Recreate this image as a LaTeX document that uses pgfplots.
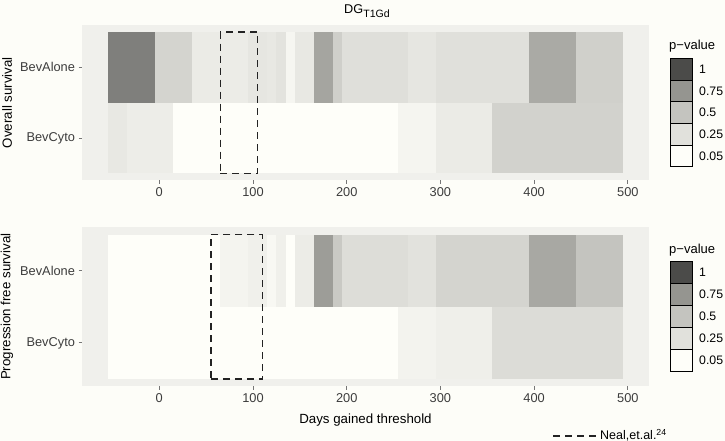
\documentclass[border=0pt]{standalone}
\usepackage{pgfplots}
\pgfplotsset{compat=1.18}
\usepackage{fontspec}
\setmainfont{Liberation Sans}
\definecolor{bgc}{RGB}{253,253,248}
\definecolor{panelc}{RGB}{240,240,236}
\definecolor{tickc}{RGB}{60,60,60}
\definecolor{dashc}{RGB}{35,35,35}
\newcommand{\tA}[4]{\addplot[draw=none,fill={rgb,255:red,#3;green,#3;blue,#4}] coordinates {(#1,1.5) (#2,1.5) (#2,2.5) (#1,2.5)} -- cycle;}
\newcommand{\tC}[4]{\addplot[draw=none,fill={rgb,255:red,#3;green,#3;blue,#4}] coordinates {(#1,0.5) (#2,0.5) (#2,1.5) (#1,1.5)} -- cycle;}
\pgfplotsset{
  myaxis/.style={
    scale only axis, width=566.9pt,
    xmin=-82.5, xmax=522.5, ymin=0.4, ymax=2.6,
    axis line style={draw=none},
    axis background/.style={fill=panelc},
    xtick={0,100,200,300,400,500},
    xticklabels={0,100,200,300,400,500},
    ytick={1,2}, yticklabels={BevCyto,BevAlone},
    tick align=outside, major tick length=3.5pt,
    tick style={draw=tickc!70, line width=0.8pt},
    xtick pos=bottom, ytick pos=left,
    ticklabel style={font=\fontsize{12.8}{14}\selectfont, text=tickc},
  }
}
\begin{document}
\begin{tikzpicture}[x=1pt,y=1pt]
\fill[bgc] (0,0) rectangle (725,-441);
\path[use as bounding box] (0,0) rectangle (725,-441);
% ---------- Overall survival ----------
\begin{axis}[myaxis, height=155.5pt, at={(82pt,-180.4pt)}, anchor=south west]
\tA{-55}{-5}{127}{124}
\tA{-5}{35}{212}{207}
\tA{35}{65}{235}{230}
\tA{65}{95}{236}{231}
\tA{95}{115}{230}{225}
\tA{115}{125}{232}{227}
\tA{125}{135}{227}{222}
\tA{135}{145}{246}{241}
\tA{145}{165}{232}{227}
\tA{165}{185}{165}{160}
\tA{185}{195}{207}{202}
\tA{195}{265}{223}{218}
\tA{265}{295}{230}{225}
\tA{295}{395}{224}{219}
\tA{395}{445}{170}{165}
\tA{445}{495}{208}{203}
\tC{-55}{-35}{232}{227}
\tC{-35}{15}{237}{232}
\tC{15}{255}{254}{249}
\tC{255}{295}{245}{240}
\tC{295}{355}{235}{230}
\tC{355}{495}{210}{205}
\addplot[draw=dashc, line width=1.4pt, dash pattern=on 7pt off 5pt] coordinates {(65,0.5) (105,0.5) (105,2.5) (65,2.5)} -- cycle;
\end{axis}
% ---------- Progression free survival ----------
\begin{axis}[myaxis, height=158.9pt, at={(82pt,-386.2pt)}, anchor=south west]
\tA{-55}{65}{254}{249}
\tA{65}{95}{244}{239}
\tA{95}{115}{240}{235}
\tA{115}{125}{248}{243}
\tA{125}{135}{240}{235}
\tA{135}{145}{254}{249}
\tA{145}{165}{236}{231}
\tA{165}{185}{157}{152}
\tA{185}{195}{201}{196}
\tA{195}{265}{221}{216}
\tA{265}{295}{226}{221}
\tA{295}{395}{212}{207}
\tA{395}{445}{168}{163}
\tA{445}{495}{196}{191}
\tC{-55}{255}{254}{249}
\tC{255}{295}{243}{238}
\tC{295}{355}{239}{234}
\tC{355}{495}{220}{215}
\addplot[draw=dashc, line width=1.4pt, dash pattern=on 7pt off 5pt] coordinates {(55,0.5) (110,0.5) (110,2.5) (55,2.5)} -- cycle;
\end{axis}
% ---------- texts ----------
\node[font=\fontsize{12.7}{14}\selectfont] at (367,-11) {DG\raisebox{-3.5pt}{\fontsize{10.6}{12}\selectfont T1Gd}};
\node[rotate=90, font=\fontsize{13.3}{15}\selectfont] at (7,-102.6) {Overall survival};
\node[rotate=90, font=\fontsize{13.3}{15}\selectfont] at (7,-306.7) {Progression free survival};
\node[font=\fontsize{13.3}{15}\selectfont] at (365.5,-420) {Days gained threshold};
% ---------- legends ----------
\foreach \yt/\ytop/\h in {46.5/58.3/21.7, 250/261.7/22} {
  \node[anchor=west, inner sep=0, font=\fontsize{13}{15}\selectfont] at (669,-\yt) {p−value};
  \foreach \i/\r/\g/\b/\lab in {0/75/75/73/1, 1/149/149/144/0.75, 2/196/196/191/0.5, 3/225/225/220/0.25, 4/254/254/249/0.05} {
    \fill[fill={rgb,255:red,\r;green,\r;blue,\b}] (670,-\ytop-\i*\h) rectangle (692,-\ytop-\i*\h-\h);
    \node[anchor=west, inner sep=0, font=\fontsize{12.3}{14}\selectfont] at (699,-\ytop-\i*\h-0.5*\h) {\lab};
  }
  \foreach \i in {0,1,2,3,4} {
    \draw[black, line width=0.8pt] (670,-\ytop-\i*\h) rectangle (692,-\ytop-\i*\h-\h);
  }
}
\draw[dashc, line width=1.2pt, dash pattern=on 7pt off 5pt] (553,-436) -- (598,-436);
\node[anchor=west, inner sep=0, font=\fontsize{12.5}{14}\selectfont] at (600,-435) {Neal,et.al.\textsuperscript{24}};
\end{tikzpicture}
\end{document}
